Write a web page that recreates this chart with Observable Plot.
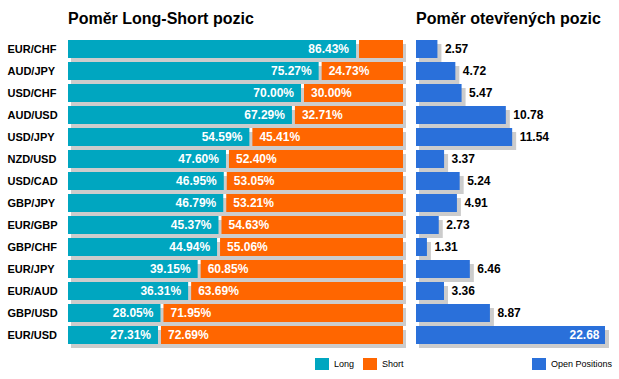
<!DOCTYPE html>
<html>
<head>
<meta charset="utf-8">
<script src="https://cdn.jsdelivr.net/npm/d3@7"></script>
<script src="https://cdn.jsdelivr.net/npm/@observablehq/plot@0.6"></script>
<style>
  html, body { margin: 0; padding: 0; background: #fff; }
  #wrap { position: relative; width: 619px; height: 379px; overflow: hidden; font-family: "Liberation Sans", Arial, sans-serif; }
  .title { position: absolute; top: 10px; font-weight: bold; font-size: 16px; color: #000; white-space: nowrap; }
  .leg { position: absolute; top: 358px; font-size: 9px; color: #000; white-space: nowrap; display: flex; align-items: center; }
  .sw { display: inline-block; width: 14px; height: 12px; margin-right: 5px; }
  svg { position: absolute; left: 0; top: 0; }
</style>
</head>
<body>
<div id="wrap">
  <div class="title" style="left:68px">Poměr Long-Short pozic</div>
  <div class="title" style="left:416px">Poměr otevřených pozic</div>
  <div class="leg" style="left:315px"><span class="sw" style="background:#00A6C0"></span>Long</div>
  <div class="leg" style="left:363px"><span class="sw" style="background:#FF6600"></span>Short</div>
  <div class="leg" style="left:532px"><span class="sw" style="background:#2A70DA"></span>Open Positions</div>
</div>
<script>
const pairs = ["EUR/CHF","AUD/JPY","USD/CHF","AUD/USD","USD/JPY","NZD/USD","USD/CAD","GBP/JPY","EUR/GBP","GBP/CHF","EUR/JPY","EUR/AUD","GBP/USD","EUR/USD"];
const longPct = [86.43,75.27,70.00,67.29,54.59,47.60,46.95,46.79,45.37,44.94,39.15,36.31,28.05,27.31];
const shortPct = [13.57,24.73,30.00,32.71,45.41,52.40,53.05,53.21,54.63,55.06,60.85,63.69,71.95,72.69];
const openPos = [2.57,4.72,5.47,10.78,11.54,3.37,5.24,4.91,2.73,1.31,6.46,3.36,8.87,22.68];

const TEAL = "#00A6C0", ORANGE = "#FF6600", BLUE = "#2A70DA", SHADOW = "#CCCCCC";
const rows = pairs.map((p, i) => ({pair: p, long: longPct[i], short: shortPct[i], open: openPos[i]}));
const fmtPct = v => d3.format(".2f")(v) + "%";
const fmt = d3.format(".2f");

const yScale = {domain: pairs, range: [34.8, 348.2], paddingInner: 0.196, paddingOuter: 0.098};
const font = "'Liberation Sans', Arial, sans-serif";
const common = {
  width: 619, height: 379, margin: 0,
  style: {position: "absolute", left: "0px", top: "0px", background: "transparent", fontFamily: font, maxWidth: "none", overflow: "visible"},
  y: yScale
};

const left = Plot.plot({
  ...common,
  x: {domain: [0, 100], range: [68, 403], axis: null},
  y: {...yScale, axis: null},
  marks: [
    Plot.barX(rows, {y: "pair", x1: 0, x2: d => d.long + d.short, fill: SHADOW, dx: 3, dy: 4}),
    Plot.barX(rows, {y: "pair", x1: 0, x2: "long", fill: TEAL, insetRight: 1.5}),
    Plot.barX(rows, {y: "pair", x1: "long", x2: d => d.long + d.short, fill: ORANGE, insetLeft: 1.5}),
    Plot.text(rows.filter(d => d.long >= 20), {y: "pair", x: "long", text: d => fmtPct(d.long), textAnchor: "end", dx: -9, fill: "white", fontWeight: "bold", fontSize: 12}),
    Plot.text(rows.filter(d => d.short >= 20), {y: "pair", x: "long", text: d => fmtPct(d.short), textAnchor: "start", dx: 8, fill: "white", fontWeight: "bold", fontSize: 12}),
    Plot.text(rows, {y: "pair", text: "pair", frameAnchor: "left", dx: 7, fill: "black", fontWeight: "bold", fontSize: 11})
  ]
});

const maxOpen = d3.max(openPos);
const right = Plot.plot({
  ...common,
  x: {domain: [0, maxOpen], range: [416, 605], axis: null},
  y: {...yScale, axis: null},
  marks: [
    Plot.barX(rows, {y: "pair", x1: 0, x2: "open", fill: SHADOW, dx: 3, dy: 4, insetRight: -1}),
    Plot.barX(rows, {y: "pair", x1: 0, x2: "open", fill: BLUE}),
    Plot.text(rows.filter(d => d.open < 18), {y: "pair", x: "open", text: d => fmt(d.open), textAnchor: "start", dx: 7, fill: "black", fontWeight: "bold", fontSize: 12}),
    Plot.text(rows.filter(d => d.open >= 18), {y: "pair", x: "open", text: d => fmt(d.open), textAnchor: "end", dx: -6, fill: "white", fontWeight: "bold", fontSize: 12})
  ]
});

const wrap = document.getElementById("wrap");
wrap.insertBefore(right, wrap.firstChild);
wrap.insertBefore(left, wrap.firstChild);
</script>
</body>
</html>
